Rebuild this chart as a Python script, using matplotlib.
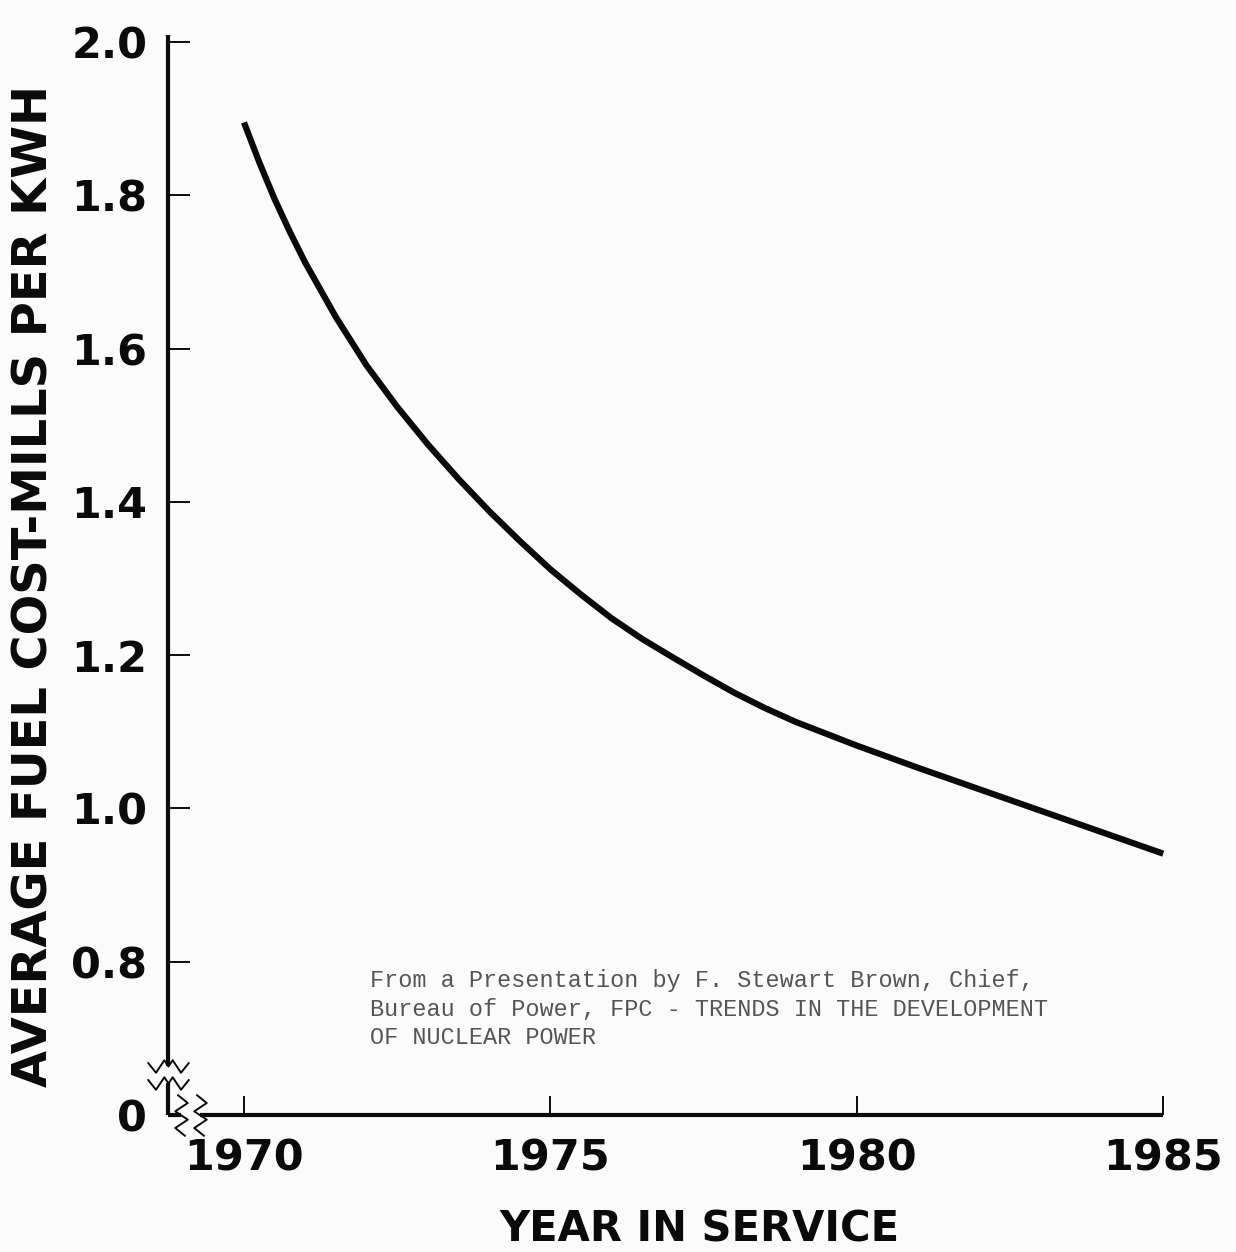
import matplotlib
matplotlib.use("Agg")
import matplotlib.pyplot as plt
from matplotlib.path import Path

# average fuel cost, mills per kWh, by year in service
years = [1970, 1970.25, 1970.5, 1970.75, 1971, 1971.5, 1972, 1972.5, 1973, 1973.5,
         1974, 1974.5, 1975, 1975.5, 1976, 1976.5, 1977, 1977.5, 1978, 1978.5,
         1979, 1980, 1981, 1982, 1983, 1984, 1985]
cost = [1.895, 1.843, 1.795, 1.752, 1.712, 1.641, 1.578, 1.524, 1.475, 1.430,
        1.388, 1.349, 1.312, 1.279, 1.248, 1.221, 1.197, 1.1735, 1.151, 1.131,
        1.113, 1.082, 1.053, 1.025, 0.997, 0.969, 0.941]

xticks = [1970, 1975, 1980, 1985]
# the axis is broken below 0.8, so "0" sits where 0.6 would be
yticks = [0.6, 0.8, 1.0, 1.2, 1.4, 1.6, 1.8, 2.0]
ylabels = ["0", "0.8", "1.0", "1.2", "1.4", "1.6", "1.8", "2.0"]

note = ("From a Presentation by F. Stewart Brown, Chief,\n"
        "Bureau of Power, FPC - TRENDS IN THE DEVELOPMENT\n"
        "OF NUCLEAR POWER")

fig = plt.figure(figsize=(12.36, 12.52), dpi=100)
fig.patch.set_facecolor("#fbfbfb")
ax = fig.add_axes([0.1359, 0.1094, 0.830, 0.8626])
ax.set_facecolor("none")
x0, x1 = 1968.76, 1985.5
y0, y1 = 0.6, 2.009
ax.set_xlim(x0, x1)
ax.set_ylim(y0, y1)

for s in ax.spines.values():
    s.set_visible(False)

ink = "#0a0a0a"
axw = 3.0

# left axis, with a gap for the break
ax.plot([x0, x0], [0.664, y1], color=ink, lw=axw, clip_on=False, solid_capstyle="butt")
ax.plot([x0, x0], [y0, 0.642], color=ink, lw=axw, clip_on=False, solid_capstyle="butt")
# bottom axis, with a gap for the break
ax.plot([x0, 1968.98], [y0, y0], color=ink, lw=axw, clip_on=False, solid_capstyle="butt")
ax.plot([1969.28, 1985], [y0, y0], color=ink, lw=axw, clip_on=False, solid_capstyle="butt")

# break squiggles
hwave = Path([(-1, 0.2), (-0.6, -0.3), (-0.2, 0.3), (0.0, 0.0), (0.2, 0.3), (0.6, -0.3), (1, 0.2)])
vwave = Path([(0.2, -1), (-0.3, -0.6), (0.3, -0.2), (-0.3, 0.2), (0.3, 0.6), (-0.2, 1)])
for yb in (0.664, 0.642):
    ax.plot([x0], [yb], marker=hwave, ms=30, mfc="none", mec=ink, mew=1.4, clip_on=False)
for xb in (1968.98, 1969.28):
    ax.plot([xb], [y0], marker=vwave, ms=30, mfc="none", mec=ink, mew=1.4, clip_on=False)

# curve
ax.plot(years, cost, color=ink, lw=4.5, solid_capstyle="butt", solid_joinstyle="round")

ax.set_xticks(xticks)
ax.set_xticklabels([str(t) for t in xticks])
ax.set_yticks(yticks)
ax.set_yticklabels(ylabels)
ax.tick_params(axis="both", direction="in", color=ink, width=1.4)
ax.tick_params(axis="y", length=16, pad=15)
ax.tick_params(axis="x", length=14, pad=16)
ax.yaxis.get_major_ticks()[0].tick1line.set_visible(False)

for lab in ax.get_xticklabels() + ax.get_yticklabels():
    lab.set_fontsize(31)
    lab.set_fontweight("bold")
    lab.set_color(ink)

ax.set_xlabel("YEAR IN SERVICE", fontsize=30, fontweight="bold", color=ink)
ax.xaxis.set_label_coords(0.518, -0.087)
ax.set_ylabel("AVERAGE FUEL COST-MILLS PER KWH", fontsize=34.5, fontweight="bold", color=ink)
ax.yaxis.set_label_coords(-0.108, 0.49)

ax.text(1972.06, 0.790, note, fontsize=16.9, family="Liberation Mono", color="#555555",
        va="top", ha="left", linespacing=1.3)

fig.savefig("out.png", dpi=100, facecolor=fig.get_facecolor())
